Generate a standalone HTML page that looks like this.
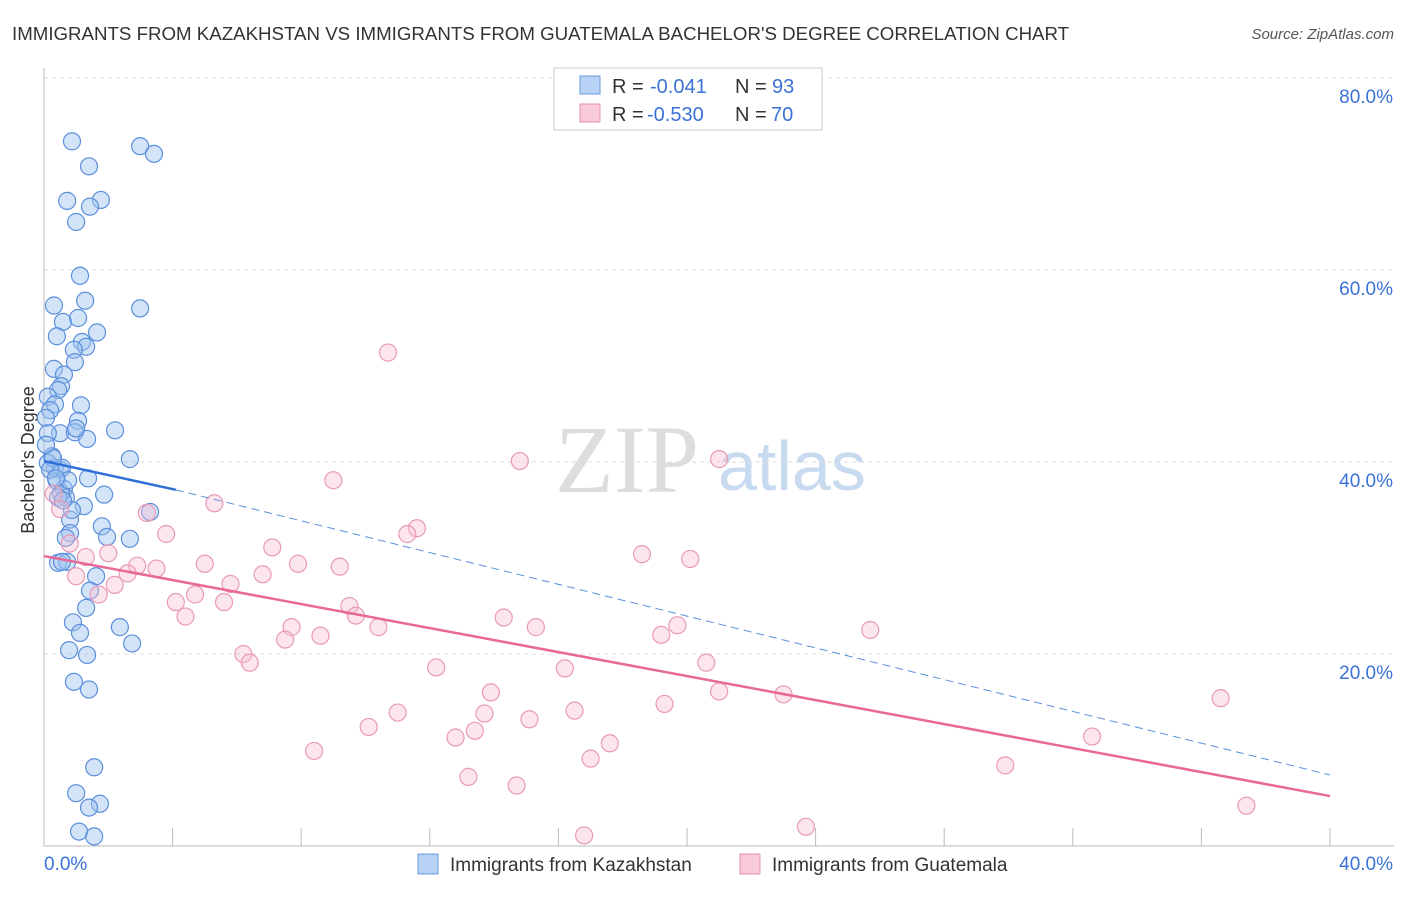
<!DOCTYPE html>
<html><head><meta charset="utf-8"><style>
body{margin:0;background:#fff;font-family:"Liberation Sans",sans-serif}
svg text{font-family:"Liberation Sans",sans-serif}
</style></head><body>
<svg id="c" width="1406" height="892">
<text x="12" y="40" font-size="18.7" fill="#333">IMMIGRANTS FROM KAZAKHSTAN VS IMMIGRANTS FROM GUATEMALA BACHELOR'S DEGREE CORRELATION CHART</text>
<text x="1394" y="39" font-size="15" fill="#555" font-style="italic" text-anchor="end">Source: ZipAtlas.com</text>
<text x="555" y="492" font-size="96" fill="#ddd" style="font-family:'Liberation Serif',serif">ZIP</text>
<text x="718" y="490" font-size="70" fill="#c8daf0">atlas</text>
<text x="34" y="460" font-size="18" fill="#333" transform="rotate(-90 34 460)" text-anchor="middle">Bachelor's Degree</text>
<g id="grid"></g><g id="marks"></g>
<g>
<rect x="554" y="68" width="268" height="62" fill="#fff" stroke="#ccc"/>
<rect x="580" y="76" width="20" height="18" fill="#b8d3f5" stroke="#6a9be0"/>
<rect x="580" y="104" width="20" height="18" fill="#f9cad9" stroke="#e890ac"/>
<text x="612" y="93" font-size="20" fill="#333">R =</text>
<text x="650" y="93" font-size="20" fill="#3a72d8">-0.041</text>
<text x="735" y="93" font-size="20" fill="#333">N =</text>
<text x="772" y="93" font-size="20" fill="#3a72d8">93</text>
<text x="612" y="121" font-size="20" fill="#333">R =</text>
<text x="647" y="121" font-size="20" fill="#3a72d8">-0.530</text>
<text x="735" y="121" font-size="20" fill="#333">N =</text>
<text x="771" y="121" font-size="20" fill="#3a72d8">70</text>
</g>
<g>
<rect x="418" y="854" width="20" height="20" fill="#b8d3f5" stroke="#6a9be0"/>
<text x="450" y="871" font-size="19" fill="#333">Immigrants from Kazakhstan</text>
<rect x="740" y="854" width="20" height="20" fill="#f9cad9" stroke="#e890ac"/>
<text x="772" y="871" font-size="19" fill="#333">Immigrants from Guatemala</text>
</g>
</svg>
<script>
const blueX=[0.87,2.99,3.42,1.40,0.72,1.77,1.43,1.00,1.12,0.31,1.28,2.99,0.59,1.06,1.65,0.40,1.18,1.31,0.93,0.96,0.31,0.62,0.53,0.44,0.12,0.34,1.15,0.19,1.06,0.06,0.50,0.12,0.96,1.34,2.21,1.00,0.25,0.34,0.50,2.67,0.12,0.40,1.37,0.62,0.68,0.53,1.87,1.24,3.30,0.81,1.80,2.67,0.81,0.68,1.96,0.44,0.72,1.62,1.43,1.31,0.90,1.12,2.36,0.78,1.34,2.74,0.93,1.40,1.56,1.00,1.74,1.40,1.09,1.56,0.56,0.28,0.19,0.75,0.87,0.56,0.44,0.06,0.59,0.37];
const blueY=[73.4,72.9,72.1,70.8,67.2,67.3,66.6,65.0,59.4,56.3,56.8,56.0,54.6,55.0,53.5,53.1,52.5,52.0,51.7,50.4,49.7,49.1,47.9,47.5,46.8,46.0,45.9,45.4,44.3,44.6,43.0,43.0,43.1,42.4,43.3,43.5,40.6,39.4,39.2,40.3,39.9,38.0,38.3,37.2,36.3,36.7,36.6,35.4,34.8,34.0,33.3,32.0,32.6,32.1,32.2,29.5,29.6,28.1,26.6,24.8,23.3,22.2,22.8,20.4,19.9,21.1,17.1,16.3,8.2,5.5,4.4,4.0,1.5,1.0,39.4,40.4,39.2,38.1,35.0,29.6,36.3,41.8,36.0,38.3];
const pinkX=[10.7,14.8,21.0,9.0,5.3,3.2,11.6,11.3,3.8,7.1,18.6,20.1,2.0,1.3,5.0,7.9,9.2,2.9,3.5,2.6,1.0,5.8,2.2,6.8,4.7,1.7,4.1,5.6,9.5,4.4,9.7,14.3,15.3,10.4,7.7,19.7,8.6,19.2,7.5,25.7,6.2,6.4,20.6,12.2,16.2,13.9,21.0,23.0,19.3,16.5,11.0,13.7,15.1,10.1,13.4,12.8,17.6,32.6,8.4,17.0,36.6,29.9,13.2,14.7,23.7,37.4,16.8,0.5,0.8,0.3];
const pinkY=[51.4,40.1,40.3,38.1,35.7,34.7,33.1,32.5,32.5,31.1,30.4,29.9,30.5,30.1,29.4,29.4,29.1,29.2,28.9,28.4,28.1,27.3,27.2,28.3,26.2,26.2,25.4,25.4,25.0,23.9,24.0,23.8,22.8,22.8,22.8,23.0,21.9,22.0,21.5,22.5,20.0,19.1,19.1,18.6,18.5,16.0,16.1,15.8,14.8,14.1,13.9,13.8,13.2,12.4,12.0,11.3,10.7,11.4,9.9,9.1,15.4,8.4,7.2,6.3,2.0,4.2,1.1,35.1,31.5,36.7];
const xTicks=[0,40];const yTicks=[20,40,60,80];
const NS='http://www.w3.org/2000/svg';
const X0=44,X1=1330,Y0=846,Y1=78;
const sx=v=>X0+v/40*(X1-X0), sy=v=>Y0-v/80*(Y0-Y1);
const grid=document.getElementById('grid'),marks=document.getElementById('marks');
function mk(t,a,p){const e=document.createElementNS(NS,t);for(const k in a)e.setAttribute(k,a[k]);p.appendChild(e);return e;}
let ax=mk('line',{x1:X0,y1:68,x2:X0,y2:Y0,stroke:'#bbb'},grid);


let bx=mk('line',{x1:X0,y1:Y0,x2:1394,y2:Y0,stroke:'#bbb'},grid);


for(let i=1;i<=10;i++){const x=X0+i*(X1-X0)/10;const t=mk('line',{x1:x,y1:828,x2:x,y2:Y0,stroke:'#bbb'},grid);

}
yTicks.forEach(v=>{const l=mk('line',{x1:X0,y1:sy(v),x2:1394,y2:sy(v),stroke:'#ddd','stroke-dasharray':'4,4'},grid);


const t=mk('text',{x:1393,y:sy(v)+25,'font-size':19,fill:'#3a72d8','text-anchor':'end'},grid);t.textContent=v.toFixed(1)+'%';

});
xTicks.forEach((v,i)=>{const t=mk('text',{x:i?1393:44,y:870,'font-size':19,fill:'#3a72d8','text-anchor':i?'end':'start'},grid);t.textContent=v.toFixed(1)+'%';

});
blueX.forEach((v,i)=>{const c=mk('circle',{cx:sx(v),cy:sy(blueY[i]),r:8.5,fill:'rgba(160,195,240,0.45)',stroke:'#5b8fdc','stroke-width':1.2},marks);

});
pinkX.forEach((v,i)=>{const c=mk('circle',{cx:sx(v),cy:sy(pinkY[i]),r:8.5,fill:'rgba(248,190,210,0.4)',stroke:'#e99ab5','stroke-width':1.2},marks);

});
let l1=mk('line',{x1:sx(0),y1:sy(40.1),x2:sx(4.1),y2:sy(37.1),stroke:'#2f6fd6','stroke-width':2.5},marks);


let l2=mk('line',{x1:sx(4.1),y1:sy(37.1),x2:sx(40),y2:sy(7.4),stroke:'#5b8fdc','stroke-width':1,'stroke-dasharray':'8,5'},marks);


let l3=mk('line',{x1:sx(0),y1:sy(30.2),x2:sx(40),y2:sy(5.2),stroke:'#e8689a','stroke-width':2.5},marks);


</script>
</body></html>
